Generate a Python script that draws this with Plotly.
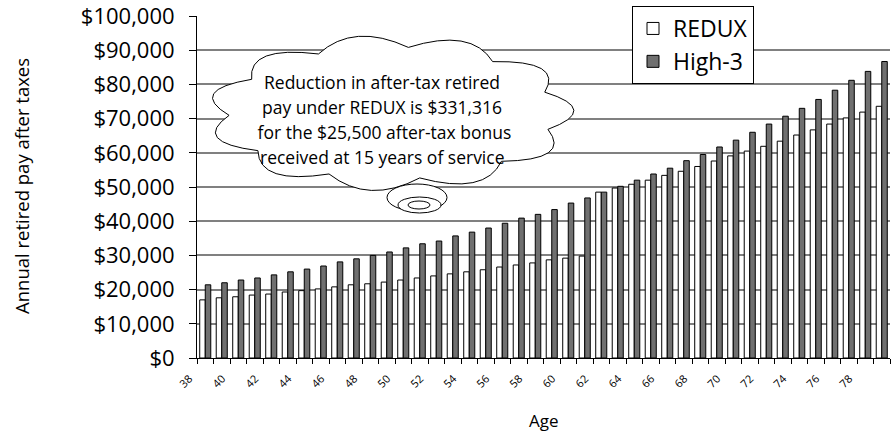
import math
import plotly.graph_objects as go

ages = list(range(38, 80))
redux = [17.0, 17.6, 17.9, 18.4, 18.7, 19.3, 19.7, 20.2, 20.8, 21.4, 21.7,
         22.2, 22.8, 23.4, 24.0, 24.6, 25.2, 25.8, 26.6, 27.2, 27.8, 28.7,
         29.2, 29.8, 48.5, 49.7, 50.8, 52.0, 53.4, 54.6, 56.0, 57.6, 59.1,
         60.5, 61.9, 63.4, 65.2, 66.7, 68.4, 70.2, 71.9, 73.6]
high3 = [21.4, 22.0, 22.8, 23.4, 24.3, 25.2, 26.0, 26.9, 28.1, 29.0, 30.0,
         31.0, 32.2, 33.4, 34.2, 35.7, 36.8, 38.0, 39.4, 40.9, 42.0, 43.4,
         45.3, 46.8, 48.5, 50.2, 52.0, 53.8, 55.5, 57.7, 59.5, 61.7, 63.7,
         66.0, 68.4, 70.7, 73.0, 75.6, 78.3, 81.2, 83.8, 86.7]
redux = [v * 1000 for v in redux]
high3 = [v * 1000 for v in high3]
label_ages = [a for a in ages if a % 2 == 0]
y_ticks = list(range(0, 100001, 10000))
y_labels = ["$0"] + ["${:,}".format(v) for v in y_ticks[1:]]
note_lines = ["Reduction in after-tax retired",
              "pay under REDUX is $331,316",
              " for the $25,500 after-tax bonus",
              "received at 15 years of service"]

FONT = "Open Sans"
W, H = 892, 438
L, R, T, B = 197, 2, 16, 80
PW, PH = W - L - R, H - T - B


def pp(px, py):
    return (px - L) / PW, (H - B - py) / PH


fig = go.Figure()
fig.add_trace(go.Bar(x=ages, y=redux, name="REDUX",
                     marker=dict(color="white", line=dict(color="black", width=1))))
fig.add_trace(go.Bar(x=ages, y=high3, name="High-3",
                     marker=dict(color="#707070", line=dict(color="black", width=1))))

# cloud shape (decoration)
cx, cy, rx, ry = 391, 113, 162, 66
n = 11
pts = []
for k in range(n + 1):
    a = 2 * math.pi * k / n + 0.25
    pts.append((a, cx + rx * math.cos(a), cy + ry * math.sin(a)))
x0, y0 = pp(pts[0][1], pts[0][2])
path = "M {:.4f},{:.4f}".format(x0, y0)
for k in range(1, n + 1):
    am = (pts[k - 1][0] + pts[k][0]) / 2
    qx, qy = pp(cx + rx * 1.3 * math.cos(am), cy + ry * 1.4 * math.sin(am))
    ex, ey = pp(pts[k][1], pts[k][2])
    path += " Q {:.4f},{:.4f} {:.4f},{:.4f}".format(qx, qy, ex, ey)
path += " Z"
shapes = [dict(type="path", path=path, xref="paper", yref="paper",
               fillcolor="white", line=dict(color="black", width=1), layer="above")]
for (a, b, c, d) in [(387, 184, 447, 211), (398, 197, 441, 213), (408, 201, 430, 209)]:
    X0, Y0 = pp(a, d)
    X1, Y1 = pp(c, b)
    shapes.append(dict(type="circle", xref="paper", yref="paper", x0=X0, y0=Y0, x1=X1, y1=Y1,
                       fillcolor="white", line=dict(color="black", width=1), layer="above"))

annotations = []
for i, line in enumerate(note_lines):
    ax_, ay_ = pp(382, 82 + 25 * i)
    annotations.append(dict(text=line, x=ax_, y=ay_, xref="paper", yref="paper",
                            showarrow=False, xanchor="center", yanchor="middle",
                            font=dict(family=FONT, size=17.5, color="black")))
tx, ty = pp(21, 186)
annotations.append(dict(text="Annual retired pay after taxes", x=tx, y=ty, xref="paper",
                        yref="paper", showarrow=False, textangle=-90, xanchor="center",
                        yanchor="middle", font=dict(family=FONT, size=18.5, color="black")))
ax2, ay2 = pp(544, 420)
annotations.append(dict(text="Age", x=ax2, y=ay2, xref="paper", yref="paper",
                        showarrow=False, xanchor="center", yanchor="middle",
                        font=dict(family=FONT, size=17, color="black")))

fig.update_layout(
    width=W, height=H,
    margin=dict(l=L, r=R, t=T, b=B, pad=0, autoexpand=False),
    paper_bgcolor="white", plot_bgcolor="white",
    barmode="group", bargap=0.33, bargroupgap=0,
    font=dict(family=FONT, color="black"),
    showlegend=True,
    legend=dict(xref="container", yref="container", x=632 / W, y=1 - 6 / H,
                xanchor="left", yanchor="top",
                bgcolor="white", bordercolor="black", borderwidth=1,
                font=dict(family=FONT, size=23, color="black"),
                itemwidth=30, traceorder="normal"),
    shapes=shapes, annotations=annotations,
)
fig.update_xaxes(
    range=[ages[0] - 0.5, ages[-1] + 0.5], tickmode="array",
    tickvals=label_ages, ticktext=[str(a) for a in label_ages],
    tickangle=-45, ticks="", showgrid=False, zeroline=False, automargin=False,
    showline=True, linecolor="black", linewidth=1, ticklabeloverflow="allow",
    tickfont=dict(family=FONT, size=11, color="black"),
    ticklabelshift=-16, ticklabelstandoff=9,
    minor=dict(tickmode="array", tickvals=[a - 0.5 for a in ages] + [ages[-1] + 0.5],
               ticks="outside", ticklen=5, tickcolor="black", showgrid=False),
)
fig.update_yaxes(
    range=[0, 100000], tickmode="array", tickvals=y_ticks, ticktext=y_labels,
    ticks="outside", ticklen=7, tickcolor="black", showline=True, linecolor="black",
    linewidth=1, showgrid=True, gridcolor="#808080", gridwidth=1.5, zeroline=False,
    automargin=False, ticklabeloverflow="allow",
    tickfont=dict(family=FONT, size=22, color="black"), ticklabelstandoff=10,
)
fig.write_html("out.html", config={"displayModeBar": False},
               post_script="document.body.style.margin='0';")
